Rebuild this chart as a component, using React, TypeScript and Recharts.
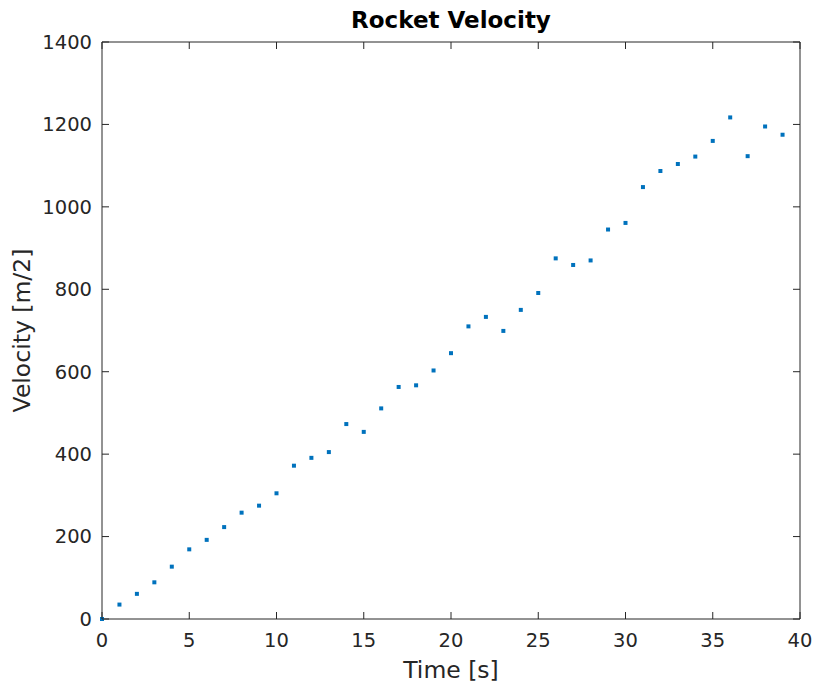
import React from 'react'
import { ScatterChart, Scatter, XAxis, YAxis, Label } from 'recharts'

// Rocket velocity samples, one per second.
const times = [
  0, 1, 2, 3, 4, 5, 6, 7, 8, 9, 10, 11, 12, 13, 14, 15, 16, 17, 18, 19,
  20, 21, 22, 23, 24, 25, 26, 27, 28, 29, 30, 31, 32, 33, 34, 35, 36, 37, 38, 39,
]
const velocities = [
  0, 35, 61, 89, 127, 169, 192, 223, 258, 275, 305, 372, 391, 405, 473, 454, 511, 563, 567, 603,
  645, 710, 733, 699, 750, 791, 875, 859, 870, 945, 961, 1048, 1087, 1104, 1122, 1160, 1217, 1123, 1195, 1175,
]
const xTicks = [0, 5, 10, 15, 20, 25, 30, 35, 40]
const yTicks = [0, 200, 400, 600, 800, 1000, 1200, 1400]

const data = times.map((t, i) => ({ t, v: velocities[i] }))

const AXIS = '#262626'
const FONT = '"DejaVu Sans", sans-serif'
const TICK_LEN = 7

// MATLAB-style box: ticks point inward on all four sides
const BottomTick = (props: any) => {
  const { x, y, payload } = props
  return (
    <g>
      <line x1={x} x2={x} y1={y} y2={y - TICK_LEN} stroke={AXIS} />
      <text x={x} y={y + 14} dy="0.71em" textAnchor="middle" fill={AXIS} fontSize={19.5} fontFamily={FONT}>
        {payload.value}
      </text>
    </g>
  )
}

const LeftTick = (props: any) => {
  const { x, y, payload } = props
  return (
    <g>
      <line x1={x} x2={x + TICK_LEN} y1={y} y2={y} stroke={AXIS} />
      <text x={x - 10} y={y} dy="0.355em" textAnchor="end" fill={AXIS} fontSize={19.5} fontFamily={FONT}>
        {payload.value}
      </text>
    </g>
  )
}

const TopTick = (props: any) => {
  const { x, y } = props
  return <line x1={x} x2={x} y1={y} y2={y + TICK_LEN} stroke={AXIS} />
}

const RightTick = (props: any) => {
  const { x, y } = props
  return <line x1={x} x2={x - TICK_LEN} y1={y} y2={y} stroke={AXIS} />
}

const Dot = (props: any) => {
  const { cx, cy } = props
  return <rect x={cx - 2} y={cy - 2} width={4} height={4} fill="#0072BD" />
}

const NoDot = () => <g />

export default function App() {
  return (
    <div style={{ position: 'absolute', left: 0, top: 0, width: 816, height: 683, background: '#fff' }}>
      <ScatterChart width={816} height={683} margin={{ top: 41, right: 15, bottom: 0, left: 0 }}>
        <text x={451} y={20} dy="0.355em" textAnchor="middle" fontSize={23} fontWeight="bold" fontFamily={FONT} fill="#000">
          Rocket Velocity
        </text>
        <XAxis
          xAxisId="main"
          dataKey="t"
          type="number"
          domain={[0, 40]}
          ticks={xTicks}
          height={64}
          tickSize={0}
          tickMargin={0}
          tick={<BottomTick />}
          axisLine={{ stroke: AXIS }}
          tickLine={false}
        >
          <Label value="Time [s]" position="insideBottom" offset={5} fill={AXIS} fontSize={23.5} fontFamily={FONT} />
        </XAxis>
        <XAxis
          xAxisId="top"
          dataKey="t"
          orientation="top"
          type="number"
          domain={[0, 40]}
          ticks={xTicks}
          height={1}
          tickSize={0}
          tickMargin={0}
          tick={<TopTick />}
          axisLine={{ stroke: AXIS }}
          tickLine={false}
        />
        <YAxis
          yAxisId="main"
          dataKey="v"
          type="number"
          domain={[0, 1400]}
          ticks={yTicks}
          width={102}
          tickSize={0}
          tickMargin={0}
          tick={<LeftTick />}
          axisLine={{ stroke: AXIS }}
          tickLine={false}
        >
          <Label
            value="Velocity [m/2]"
            angle={-90}
            position="insideLeft"
            offset={22}
            style={{ textAnchor: 'middle' }}
            fill={AXIS}
            fontSize={23.5}
            fontFamily={FONT}
          />
        </YAxis>
        <YAxis
          yAxisId="right"
          dataKey="v"
          orientation="right"
          type="number"
          domain={[0, 1400]}
          ticks={yTicks}
          width={1}
          tickSize={0}
          tickMargin={0}
          tick={<RightTick />}
          axisLine={{ stroke: AXIS }}
          tickLine={false}
        />
        {/* invisible twin series so the top/right box axes get a scale */}
        <Scatter data={data} xAxisId="top" yAxisId="right" shape={<NoDot />} isAnimationActive={false} />
        <Scatter
          data={data}
          xAxisId="main"
          yAxisId="main"
          shape={<Dot />}
          isAnimationActive={false}
        />
      </ScatterChart>
    </div>
  )
}
